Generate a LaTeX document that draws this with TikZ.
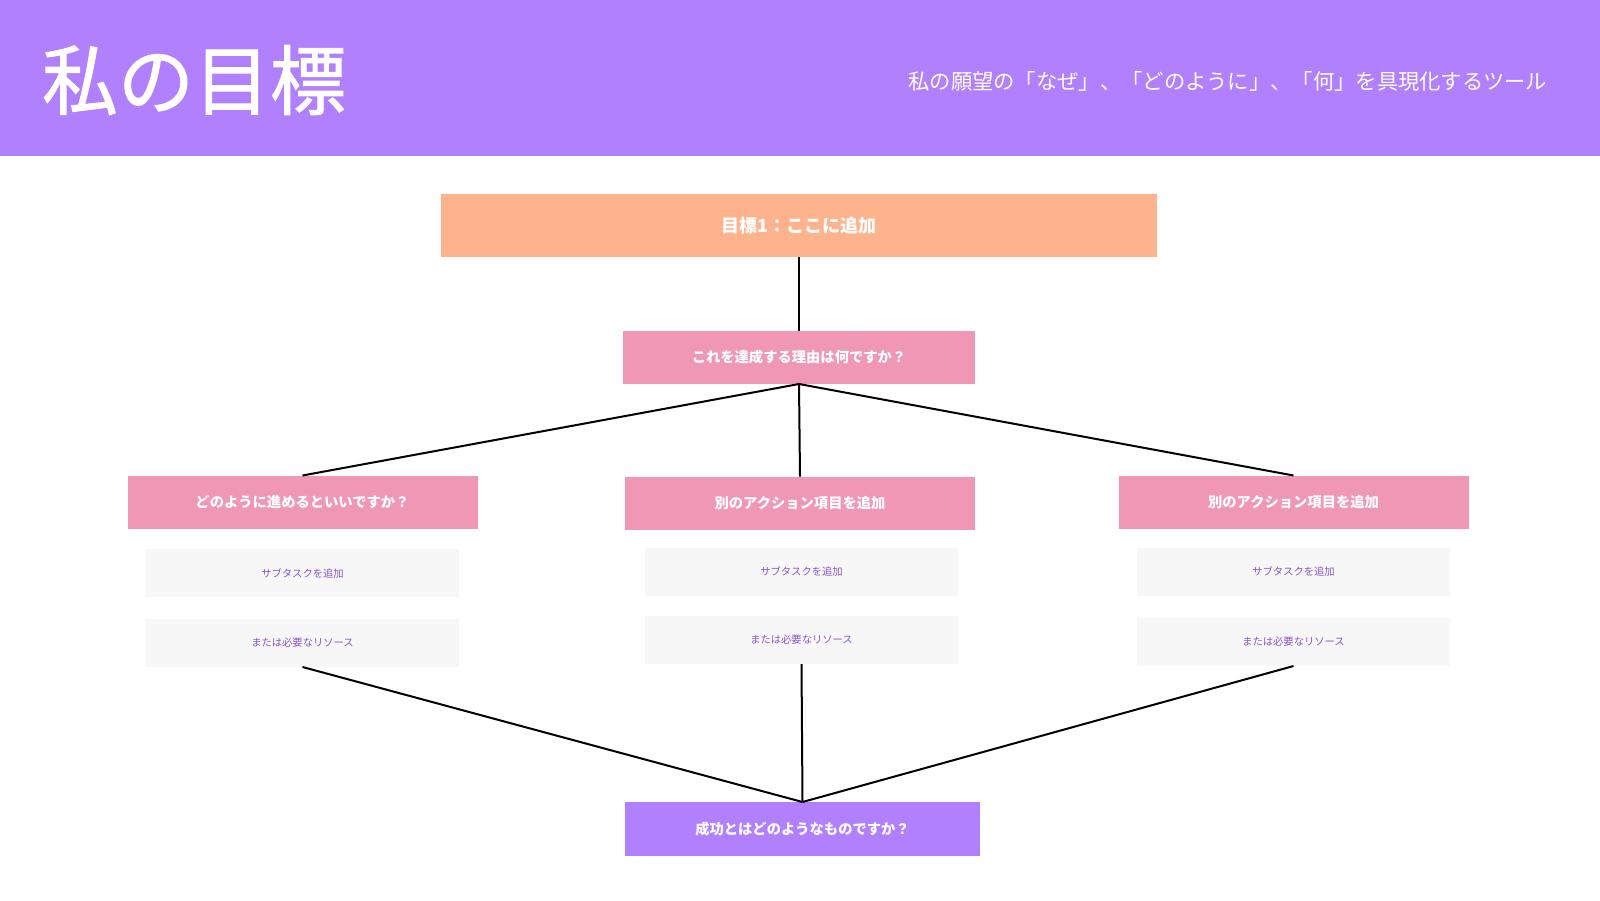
\documentclass[tikz,border=0pt]{standalone}
\usepackage{fontspec}
\newfontfamily\jp{Noto Sans CJK JP}
\newfontfamily\jptitle[FakeBold=1.2]{Noto Sans CJK JP}
\definecolor{hdrpurple}{RGB}{177,128,255}
\definecolor{goalorange}{RGB}{255,179,140}
\definecolor{boxpink}{RGB}{239,151,180}
\definecolor{subgray}{RGB}{247,247,247}
\definecolor{subtext}{RGB}{138,84,204}
\begin{document}
\begin{tikzpicture}[x=1pt,y=-1pt,
  base/.style={inner sep=0pt, outer sep=0pt},
  goalbox/.style={base, fill=goalorange, minimum width=716pt, minimum height=63pt, text=white, font=\jp\bfseries\fontsize{18}{18}\selectfont},
  pinkbox/.style={base, fill=boxpink, minimum width=350pt, minimum height=53pt, text=white, font=\jp\bfseries\fontsize{14.3}{14.3}\selectfont},
  successbox/.style={base, fill=hdrpurple, minimum width=355pt, minimum height=54pt, text=white, font=\jp\bfseries\fontsize{14.3}{14.3}\selectfont},
  subbox/.style={base, fill=subgray, minimum width=313pt, minimum height=48pt, text=subtext, font=\jp\fontsize{10.3}{10.3}\selectfont},
  link/.style={draw=black, line width=2pt}
]
\useasboundingbox (0,0) rectangle (1600,900);
\fill[white] (0,0) rectangle (1600,900);
\fill[hdrpurple] (0,0) rectangle (1600,156);
\node[base, anchor=west, text=white, font=\jptitle\fontsize{76}{76}\selectfont] (title) at (42,80) {私の目標};
\node[base, anchor=east, text=white, font=\jp\fontsize{21.3}{21.3}\selectfont] (subtitle) at (1547,81) {私の願望の「なぜ」、「どのように」、「何」を具現化するツール};

\node[goalbox] (goal) at (799,225.5) {目標1：ここに追加};
\node[pinkbox, minimum width=352pt] (why) at (799,357.5) {これを達成する理由は何ですか？};

\node[pinkbox] (act1) at (302.5,502) {どのように進めるといいですか？};
\node[pinkbox] (act2) at (800,503) {別のアクション項目を追加};
\node[pinkbox] (act3) at (1293.5,502) {別のアクション項目を追加};

\node[subbox] (s1a) at (302.5,573) {サブタスクを追加};
\node[subbox] (s1b) at (302.5,643) {または必要なリソース};
\node[subbox] (s2a) at (801.5,571.5) {サブタスクを追加};
\node[subbox] (s2b) at (801.5,640) {または必要なリソース};
\node[subbox] (s3a) at (1293.5,571.5) {サブタスクを追加};
\node[subbox] (s3b) at (1293.5,642) {または必要なリソース};

\node[successbox] (succ) at (802.5,829) {成功とはどのようなものですか？};

\draw[link] (goal.south) -- (why.north);
\draw[link] (why.south) -- (act1.north);
\draw[link] (why.south) -- (act2.north);
\draw[link] (why.south) -- (act3.north);
\draw[link] (s1b.south) -- (succ.north);
\draw[link] (s2b.south) -- (succ.north);
\draw[link] (s3b.south) -- (succ.north);
\end{tikzpicture}
\end{document}
